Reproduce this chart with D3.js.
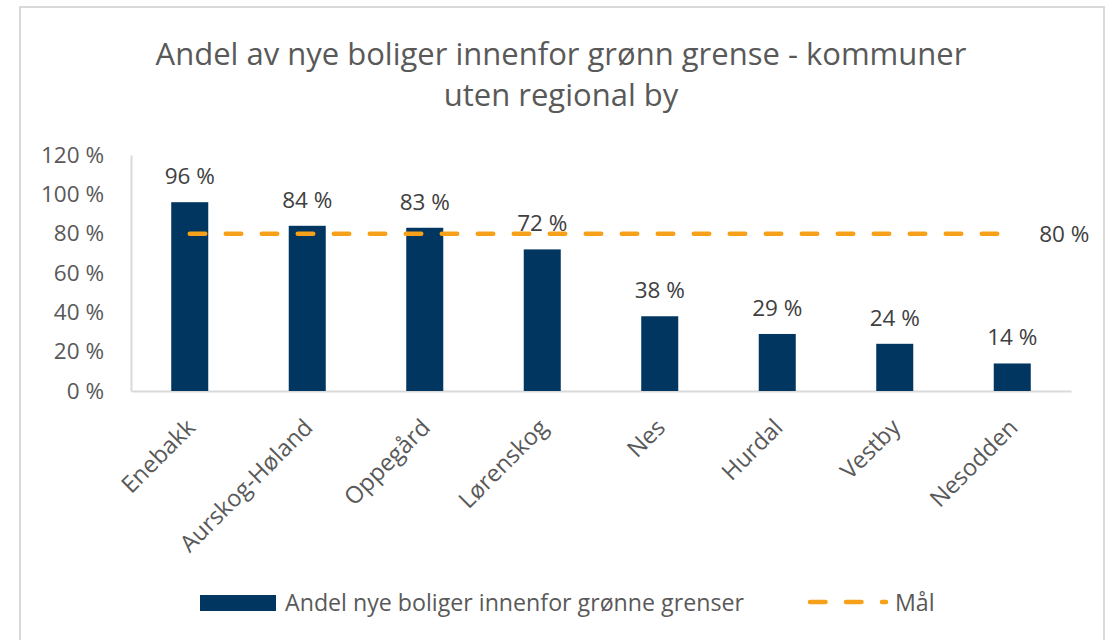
<!DOCTYPE html>
<html><head><meta charset="utf-8">
<script src="https://cdn.jsdelivr.net/npm/d3@7"></script>
<style>body{margin:0;background:#fff}svg{display:block}text{font-family:"Open Sans",sans-serif}</style>
</head><body>
<svg id="c" width="1114" height="640"></svg>
<script>
const categories = ["Enebakk","Aurskog-Høland","Oppegård","Lørenskog","Nes","Hurdal","Vestby","Nesodden"];
const shares = [0.96, 0.84, 0.83, 0.72, 0.38, 0.29, 0.24, 0.14];
const target = [0.80, 0.80, 0.80, 0.80, 0.80, 0.80, 0.80, 0.80];
const yTicks = [0, 0.2, 0.4, 0.6, 0.8, 1.0, 1.2];
const titleLines = ["Andel av nye boliger innenfor grønn grense - kommuner", "uten regional by"];
const seriesNames = ["Andel nye boliger innenfor grønne grenser", "Mål"];

const svg = d3.select("#c");
const txt = "#595959", bar = "#003660", orange = "#F7A11A";

svg.append("rect").attr("x",20).attr("y",7).attr("width",1084).attr("height",640)
  .attr("fill","#fff").attr("stroke","#d9d9d9").attr("stroke-width",2);

const L = 131, R = 1071, T = 155, B = 391;
const x = d3.scaleBand().domain(categories).range([L, R]).padding(0);
const y = d3.scaleLinear().domain([0, 1.2]).range([B, T]);
const bw = x.bandwidth() * 0.315;
const cx = c => x(c) + x.bandwidth()/2;

svg.selectAll(".t").data(titleLines).enter().append("text")
  .attr("x", 561).attr("y", (d,i) => 65 + i*41).attr("text-anchor","middle")
  .attr("font-size", 31).attr("fill", txt).text(d => d);

// axes
const fmt = v => Math.round(v*100) + " %";
const yAxis = svg.append("g").attr("transform",`translate(${L},0)`)
  .call(d3.axisLeft(y).tickValues(yTicks).tickFormat(fmt).tickSize(0).tickPadding(27));
yAxis.select(".domain").attr("stroke","#d9d9d9").attr("stroke-width",2);
yAxis.selectAll("text").attr("font-size",22.5).attr("fill",txt).attr("font-family","Open Sans");

const xAxis = svg.append("g").attr("transform",`translate(0,${B})`)
  .call(d3.axisBottom(x).tickSize(0).tickPadding(0));
xAxis.select(".domain").attr("stroke","#d9d9d9").attr("stroke-width",2);
xAxis.selectAll("text").attr("font-size",23.5).attr("fill",txt).attr("font-family","Open Sans")
  .attr("text-anchor","end").attr("dy",0)
  .attr("transform","translate(7,38) rotate(-45)");

// bars
svg.selectAll(".bar").data(shares).enter().append("rect")
  .attr("x",(d,i)=>cx(categories[i]) - bw/2)
  .attr("y",d=>y(d)).attr("width",bw).attr("height",d=>B - y(d)).attr("fill",bar);

svg.selectAll(".lbl").data(shares).enter().append("text")
  .attr("x",(d,i)=>cx(categories[i])).attr("y",d=>y(d)-18)
  .attr("text-anchor","middle").attr("font-size",22.5).attr("fill","#404040").text(fmt);

// target line
const line = d3.line().x((d,i)=>cx(categories[i])).y(d=>y(d));
svg.append("path").datum(target).attr("d",line).attr("fill","none")
  .attr("stroke",orange).attr("stroke-width",4.5).attr("stroke-linecap","round")
  .attr("stroke-dasharray","15.5 20.5");
svg.append("text").attr("x", cx(categories[7]) + 27).attr("y", y(target[7]) + 8)
  .attr("font-size",22.5).attr("fill","#404040").text(fmt(target[7]));

// legend
svg.append("rect").attr("x",200).attr("y",595).attr("width",76).attr("height",16).attr("fill",bar);
svg.append("text").attr("x",285).attr("y",611).attr("font-size",23.2).attr("fill",txt).text(seriesNames[0]);
svg.append("line").attr("x1",810).attr("x2",886).attr("y1",602).attr("y2",602)
  .attr("stroke",orange).attr("stroke-width",4.5).attr("stroke-linecap","round").attr("stroke-dasharray","15.5 20.5");
svg.append("text").attr("x",895).attr("y",611).attr("font-size",23.2).attr("fill",txt).text(seriesNames[1]);
</script>
</body></html>
